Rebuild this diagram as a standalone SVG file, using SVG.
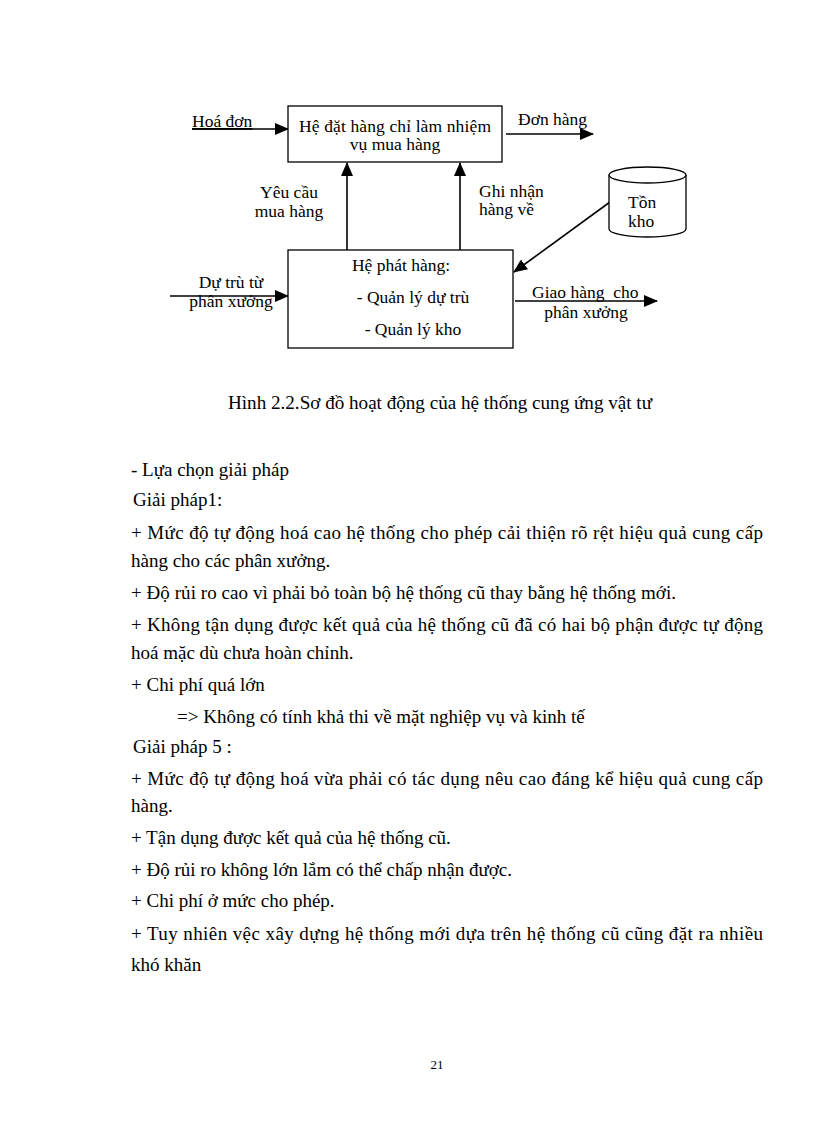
<svg xmlns="http://www.w3.org/2000/svg" width="816" height="1123" viewBox="0 0 816 1123" font-family="'Liberation Serif', 'Times New Roman', serif">
<style>
text{font-family:'Liberation Serif','Times New Roman',serif;fill:#000}
.d{font-size:17.5px}
.b{font-size:19px}
.box{fill:#fff;stroke:#000;stroke-width:1.3}
.ln{stroke:#000;stroke-width:1.6;fill:none}
</style>
<defs>
<marker id="ah2" markerWidth="14" markerHeight="12" refX="13" refY="6" orient="auto" markerUnits="userSpaceOnUse" viewBox="0 0 14 12">
<path d="M0,0 L14,6 L0,12 z" fill="#000"/>
</marker>
</defs>
<rect width="816" height="1123" fill="#fff"/>
<g id="connectors">
<line class="ln" x1="192" y1="129" x2="288" y2="129" marker-end="url(#ah2)"/>
<line class="ln" x1="506" y1="134" x2="593" y2="134" marker-end="url(#ah2)"/>
<line class="ln" x1="347" y1="250" x2="347" y2="163" marker-end="url(#ah2)"/>
<line class="ln" x1="460" y1="250" x2="460" y2="163" marker-end="url(#ah2)"/>
<line class="ln" x1="610" y1="202" x2="514" y2="272" marker-end="url(#ah2)"/>
<line class="ln" x1="170" y1="296" x2="288" y2="296" marker-end="url(#ah2)"/>
<line class="ln" x1="515" y1="301" x2="657" y2="301" marker-end="url(#ah2)"/>
</g>
<g id="node-dathang">
<rect class="box" x="288" y="106" width="214" height="56"/>
<text class="d" x="299" y="132" textLength="192" lengthAdjust="spacing">Hệ đặt hàng chỉ làm nhiệm</text>
<text class="d" x="395" y="150" text-anchor="middle">vụ mua hàng</text>
</g>
<g id="node-phathang">
<rect class="box" x="288" y="250" width="225" height="98"/>
<text class="d" x="401" y="271" text-anchor="middle">Hệ phát hàng:</text>
<text class="d" x="413" y="303" text-anchor="middle">- Quản lý dự trù</text>
<text class="d" x="413" y="335" text-anchor="middle">- Quản lý kho</text>
</g>
<g id="node-tonkho">
<path class="box" d="M609,175 L609,229 A38.5,8 0 0 0 686,229 L686,175"/>
<ellipse class="box" cx="647.5" cy="175" rx="38.5" ry="8"/>
<text class="d" x="628" y="208">Tồn</text>
<text class="d" x="628" y="227">kho</text>
</g>
<g id="labels">
<text class="d" x="192" y="127" text-decoration="underline">Hoá đơn</text>
<text class="d" x="518" y="125">Đơn hàng</text>
<text class="d" x="289" y="198" text-anchor="middle">Yêu cầu</text>
<text class="d" x="289" y="217" text-anchor="middle">mua hàng</text>
<text class="d" x="479" y="197">Ghi nhận</text>
<text class="d" x="479" y="215">hàng về</text>
<text class="d" x="231" y="288" text-anchor="middle">Dự trù từ</text>
<text class="d" x="231" y="307" text-anchor="middle">phân xưởng</text>
<text class="d" x="532" y="298">Giao hàng&#160; cho</text>
<text class="d" x="586" y="318" text-anchor="middle">phân xưởng</text>
</g>
<g id="caption">
<text x="228" y="409" font-size="19" textLength="424" lengthAdjust="spacingAndGlyphs">Hình 2.2.Sơ đồ hoạt động của hệ thống cung ứng vật tư</text>
</g>
<g id="body">
<text class="b" x="131" y="476">- Lựa chọn giải pháp</text>
<text class="b" x="133" y="506">Giải pháp1:</text>
<text class="b" x="131" y="539" textLength="632" lengthAdjust="spacing">+ Mức độ tự động hoá cao hệ thống cho phép cải thiện rõ rệt hiệu quả cung cấp</text>
<text class="b" x="131" y="567">hàng cho các phân xưởng.</text>
<text class="b" x="131" y="599" textLength="545" lengthAdjust="spacing">+ Độ rủi ro cao vì phải bỏ toàn bộ hệ thống cũ thay bằng hệ thống mới.</text>
<text class="b" x="131" y="631" textLength="632" lengthAdjust="spacing">+ Không tận dụng được kết quả của hệ thống cũ đã có hai bộ phận được tự động</text>
<text class="b" x="131" y="659">hoá mặc dù chưa hoàn chỉnh.</text>
<text class="b" x="131" y="691">+ Chi phí quá lớn</text>
<text class="b" x="177" y="723">=&gt; Không có tính khả thi về mặt nghiệp vụ và kinh tế</text>
<text class="b" x="133" y="753">Giải pháp 5 :</text>
<text class="b" x="131" y="785" textLength="632" lengthAdjust="spacing">+ Mức độ tự động hoá vừa phải có tác dụng nêu cao đáng kể hiệu quả cung cấp</text>
<text class="b" x="131" y="812">hàng.</text>
<text class="b" x="131" y="844">+ Tận dụng được kết quả của hệ thống cũ.</text>
<text class="b" x="131" y="876">+ Độ rủi ro không lớn lắm có thể chấp nhận được.</text>
<text class="b" x="131" y="907">+ Chi phí ở mức cho phép.</text>
<text class="b" x="131" y="940" textLength="632" lengthAdjust="spacing">+ Tuy nhiên vệc xây dựng hệ thống mới dựa trên hệ thống cũ cũng đặt ra nhiều</text>
<text class="b" x="131" y="971">khó khăn</text>
<text x="437" y="1069" font-size="13" text-anchor="middle">21</text>
</g>
</svg>
